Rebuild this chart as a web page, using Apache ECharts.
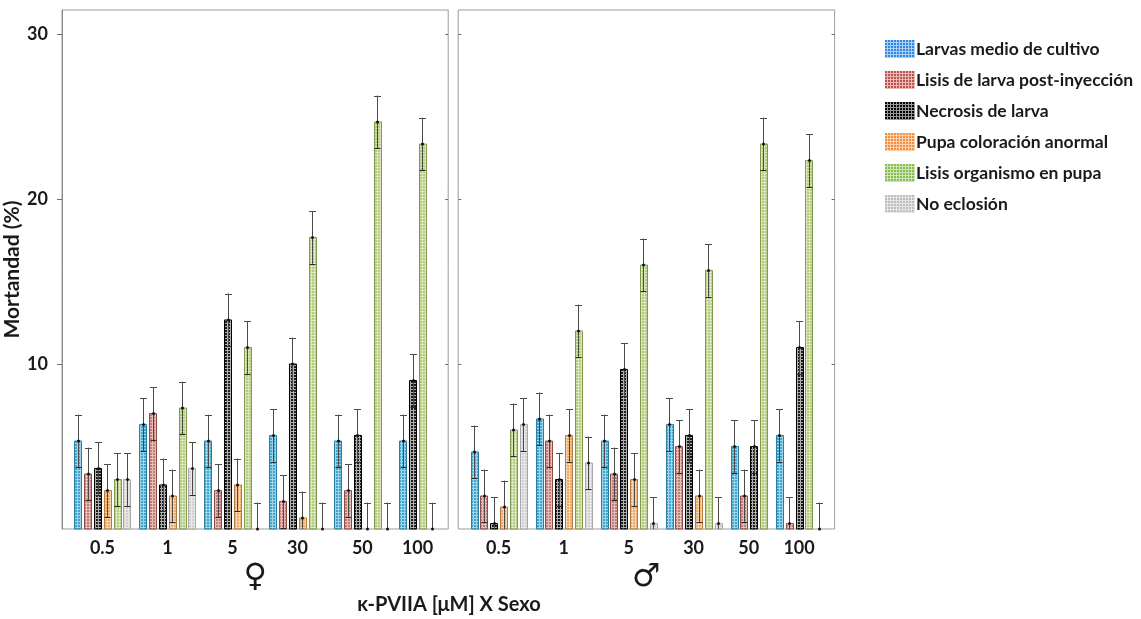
<!DOCTYPE html>
<html>
<head>
<meta charset="utf-8">
<script src="https://cdn.jsdelivr.net/npm/echarts@6/dist/echarts.min.js"></script>
<style>
  html, body { margin: 0; padding: 0; background: #ffffff; }
  #chart { width: 1141px; height: 619px; }
</style>
</head>
<body>
<div id="chart"></div>
<script>
// Dosis de κ-PVIIA (μM) en cada panel
const doses = ['0.5', '1', '5', '30', '50', '100'];

// Causas de mortandad (orden de las barras dentro de cada grupo)
const causes = [
  'Larvas medio de cultivo',
  'Lisis de larva post-inyección',
  'Necrosis de larva',
  'Pupa coloración anormal',
  'Lisis organismo en pupa',
  'No eclosión'
];

// Hembras (♀): mortandad media (%) por dosis; null = grupo sin barra
const hembraLarvasMedio   = [5.33, 6.33, 5.33, 5.67, 5.33, 5.33];
const hembraLisisLarva    = [3.33, 7.00, 2.33, 1.67, 2.33, null];
const hembraNecrosis      = [3.67, 2.67, 12.67, 10.00, 5.67, 9.00];
const hembraPupaColor     = [2.33, 2.00, 2.67, 0.67, 0, null];
const hembraLisisPupa     = [3.00, 7.33, 11.00, 17.67, 24.67, 23.33];
const hembraNoEclosion    = [3.00, 3.67, 0, 0, 0, 0];

// Hembras (♀): error estándar
const hembraErrLarvasMedio = [1.6, 1.6, 1.6, 1.6, 1.6, 1.6];
const hembraErrLisisLarva  = [1.6, 1.6, 1.6, 1.6, 1.6, null];
const hembraErrNecrosis    = [1.6, 1.6, 1.6, 1.6, 1.6, 1.6];
const hembraErrPupaColor   = [1.6, 1.6, 1.6, 1.6, 1.6, null];
const hembraErrLisisPupa   = [1.6, 1.6, 1.6, 1.6, 1.6, 1.6];
const hembraErrNoEclosion  = [1.6, 1.6, 1.6, 1.6, 1.6, 1.6];

// Machos (♂): mortandad media (%) por dosis; null = grupo sin barra
const machoLarvasMedio    = [4.67, 6.67, 5.33, 6.33, 5.00, 5.67];
const machoLisisLarva     = [2.00, 5.33, 3.33, 5.00, 2.00, 0.33];
const machoNecrosis       = [0.33, 3.00, 9.67, 5.67, 5.00, 11.00];
const machoPupaColor      = [1.33, 5.67, 3.00, 2.00, null, null];
const machoLisisPupa      = [6.00, 12.00, 16.00, 15.67, 23.33, 22.33];
const machoNoEclosion     = [6.33, 4.00, 0.33, 0.33, null, 0];

// Machos (♂): error estándar
const machoErrLarvasMedio = [1.6, 1.6, 1.6, 1.6, 1.6, 1.6];
const machoErrLisisLarva  = [1.6, 1.6, 1.6, 1.6, 1.6, 1.6];
const machoErrNecrosis    = [1.6, 1.6, 1.6, 1.6, 1.6, 1.6];
const machoErrPupaColor   = [1.6, 1.6, 1.6, 1.6, null, null];
const machoErrLisisPupa   = [1.6, 1.6, 1.6, 1.6, 1.6, 1.6];
const machoErrNoEclosion  = [1.6, 1.6, 1.6, 1.6, null, 1.6];

const yTicks = [10, 20, 30];

// ---- estilos -------------------------------------------------------------
const barFill   = ['#3fa6cf', '#c47b73', '#1c1c1c', '#ecaa64', '#b2cc7c', '#d0d0d0'];
const barStroke = ['#2b7ea3', '#8d4d47', '#000000', '#b57a3c', '#7f9a4e', '#a8a8a8'];
const keyFill   = ['#2f88e2', '#c2504c', '#000000', '#f08f3d', '#86bd4b', '#bdbdbd'];

// textura de rejilla fina sobre el color de relleno
function gridPattern(base, lineColor) {
  const c = document.createElement('canvas');
  c.width = 3; c.height = 3;
  const g = c.getContext('2d');
  g.fillStyle = base; g.fillRect(0, 0, 3, 3);
  g.fillStyle = lineColor;
  g.fillRect(0, 2, 3, 1);
  g.fillRect(2, 0, 1, 2);
  return { image: c, repeat: 'repeat' };
}
const barPatterns = barFill.map((b, i) => gridPattern(b, i === 2 ? 'rgba(255,255,255,0.65)' : 'rgba(255,255,255,0.5)'));
const keyPatterns = keyFill.map((b) => gridPattern(b, 'rgba(255,255,255,0.6)'));

// ---- posiciones de las barras (las ausentes no ocupan hueco) -------------
const PAD = 1.63;   // margen lateral, en anchos de barra
const GAP = 0.63;   // separación extra entre grupos

function layoutPanel(values, errs) {
  const data = causes.map(() => []);
  const centers = [];
  let pos = PAD;
  doses.forEach((d, gi) => {
    const first = pos;
    causes.forEach((c, ci) => {
      const v = values[ci][gi];
      if (v === null || v === undefined) return;
      data[ci].push([pos, v, errs[ci][gi]]);
      pos += 1;
    });
    centers.push((first + pos - 1) / 2);
    pos += GAP;
  });
  const max = pos - GAP - 1 + PAD;
  return { data, centers, max };
}

const hembra = layoutPanel(
  [hembraLarvasMedio, hembraLisisLarva, hembraNecrosis, hembraPupaColor, hembraLisisPupa, hembraNoEclosion],
  [hembraErrLarvasMedio, hembraErrLisisLarva, hembraErrNecrosis, hembraErrPupaColor, hembraErrLisisPupa, hembraErrNoEclosion]
);
const macho = layoutPanel(
  [machoLarvasMedio, machoLisisLarva, machoNecrosis, machoPupaColor, machoLisisPupa, machoNoEclosion],
  [machoErrLarvasMedio, machoErrLisisLarva, machoErrNecrosis, machoErrPupaColor, machoErrLisisPupa, machoErrNoEclosion]
);
const panels = [hembra, macho];

// ancho en píxeles proporcional al número de huecos de cada panel
const UNIT = 9.8;
const gridLeft0 = 62;
const gridTop = 10, gridBottomY = 529;
const panelGap = 10;
const w0 = hembra.max * UNIT;
const w1 = macho.max * UNIT;
const gridLeft1 = gridLeft0 + w0 + panelGap;
const yMax = (gridBottomY - gridTop) / 16.5;

function renderBar(ci) {
  return function (params, api) {
    const x = api.value(0), v = api.value(1), e = api.value(2);
    const base = api.coord([x, 0]);
    const top = api.coord([x, v]);
    const hi = api.coord([x, v + e]);
    const lo = api.coord([x, Math.max(0, v - e)]);
    const w = api.size([1, 0])[0] * 0.72;
    const children = [];
    if (v > 0) {
      children.push({
        type: 'rect',
        shape: { x: Math.round(base[0] - w / 2) + 0.5, y: top[1], width: Math.round(w), height: base[1] - top[1] },
        style: { fill: barPatterns[ci], stroke: barStroke[ci], lineWidth: 1 }
      });
    }
    const cx = Math.round(base[0]) + 0.5;
    children.push({
      type: 'line',
      shape: { x1: cx, y1: hi[1], x2: cx, y2: lo[1] },
      style: { stroke: '#4a4a4a', lineWidth: 1 }
    });
    children.push({
      type: 'line',
      shape: { x1: cx - 3.5, y1: Math.round(hi[1]) + 0.5, x2: cx + 3.5, y2: Math.round(hi[1]) + 0.5 },
      style: { stroke: '#4a4a4a', lineWidth: 1 }
    });
    if (v - e > 0) {
      children.push({
        type: 'line',
        shape: { x1: cx - 3, y1: Math.round(lo[1]) + 0.5, x2: cx + 3, y2: Math.round(lo[1]) + 0.5 },
        style: { stroke: '#2a2a2a', lineWidth: 1 }
      });
    }
    children.push({
      type: 'circle',
      shape: { cx: cx, cy: top[1], r: 1.5 },
      style: { fill: '#111' }
    });
    return { type: 'group', children };
  };
}

const series = [];
panels.forEach((p, pi) => {
  causes.forEach((name, ci) => {
    series.push({
      type: 'custom',
      name: name,
      xAxisIndex: pi,
      yAxisIndex: pi,
      data: p.data[ci],
      itemStyle: { color: keyPatterns[ci] },
      renderItem: renderBar(ci),
      clip: false
    });
  });
});

function doseLabelFor(p) {
  return function (v) {
    for (let i = 0; i < p.centers.length; i++) {
      if (Math.abs(p.centers[i] - v) < 1e-6) return doses[i];
    }
    return '';
  };
}

const labelFont = { fontFamily: 'Lato', fontWeight: 'bold', color: '#1a1a1a' };

function innerTicks(gridIndex, position) {
  return {
    type: 'value', gridIndex: gridIndex, position: position, min: 0, max: yMax,
    axisLine: { show: false },
    axisTick: { show: true, inside: true, customValues: yTicks, length: 3, lineStyle: { color: '#6a6a6a' } },
    splitLine: { show: false },
    axisLabel: { show: false }
  };
}

const option = {
  backgroundColor: '#ffffff',
  animation: false,
  grid: [
    { left: gridLeft0, top: gridTop, width: w0, height: gridBottomY - gridTop, show: true, borderColor: '#9c9c9c', borderWidth: 1 },
    { left: gridLeft1, top: gridTop, width: w1, height: gridBottomY - gridTop, show: true, borderColor: '#9c9c9c', borderWidth: 1 }
  ],
  xAxis: panels.map((p, pi) => ({
    type: 'value',
    gridIndex: pi,
    min: 0,
    max: p.max,
    axisLine: { show: false },
    axisTick: { show: false },
    splitLine: { show: false },
    axisLabel: Object.assign({
      customValues: p.centers,
      formatter: doseLabelFor(p),
      fontSize: 18,
      margin: 10
    }, labelFont),
    name: pi === 0 ? '♀' : '♂',
    nameLocation: 'middle',
    nameGap: 27,
    nameTextStyle: { fontSize: 32, color: '#1a1a1a', fontFamily: 'DejaVu Sans' }
  })),
  yAxis: [
    {
      type: 'value', gridIndex: 0, min: 0, max: yMax,
      axisLine: { show: true, lineStyle: { color: '#8a8a8a' } },
      axisTick: { show: true, customValues: yTicks, length: 5, lineStyle: { color: '#6a6a6a' } },
      splitLine: { show: false },
      axisLabel: Object.assign({ customValues: yTicks, fontSize: 18, margin: 14 }, labelFont),
      name: 'Mortandad (%)',
      nameLocation: 'middle',
      nameRotate: 90,
      nameGap: 33,
      nameTextStyle: Object.assign({ fontSize: 21 }, labelFont)
    },
    innerTicks(1, 'left'),
    innerTicks(0, 'right'),
    innerTicks(1, 'right')
  ],
  legend: {
    orient: 'vertical',
    left: 880,
    top: 35,
    itemWidth: 30,
    itemHeight: 18,
    itemGap: 13,
    selectedMode: false,
    textStyle: Object.assign({ fontSize: 17.5, padding: [0, 0, 0, -4] }, labelFont),
    data: causes.map((n, i) => ({ name: n, icon: 'rect', itemStyle: { color: keyPatterns[i], borderWidth: 0 } }))
  },
  graphic: [
    {
      type: 'text',
      x: 449, y: 605,
      style: {
        text: 'κ-PVIIA [μM] X Sexo',
        fontFamily: 'Lato', fontWeight: 'bold', fontSize: 20, fill: '#1a1a1a',
        align: 'center', verticalAlign: 'middle'
      }
    }
  ],
  series: series
};

const chart = echarts.init(document.getElementById('chart'), null, { renderer: 'canvas' });
chart.setOption(option);
</script>
</body>
</html>
